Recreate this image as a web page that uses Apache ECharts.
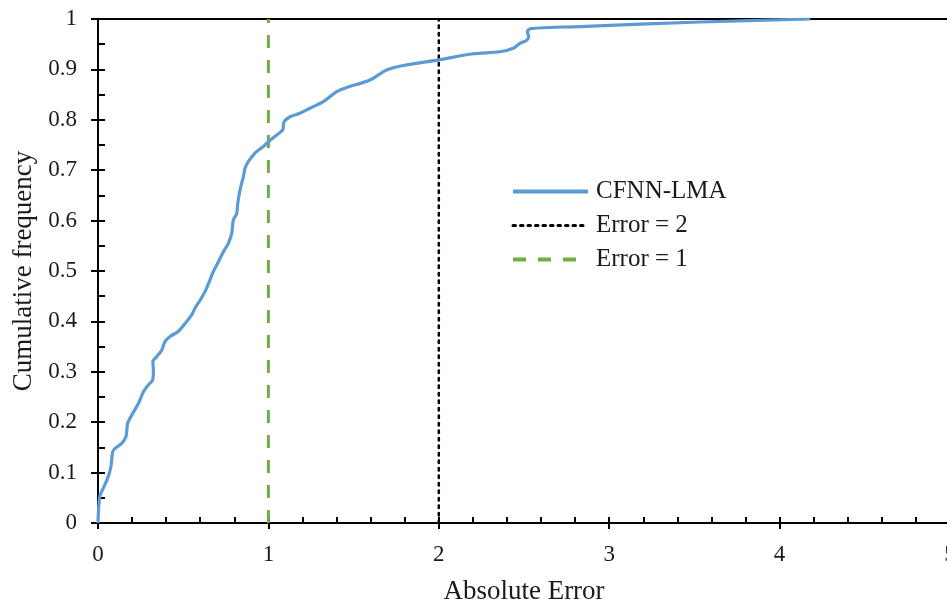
<!DOCTYPE html>
<html>
<head>
<meta charset="utf-8">
<script src="https://cdn.jsdelivr.net/npm/echarts@6/dist/echarts.min.js"></script>
<style>html,body{margin:0;padding:0;background:#fff}#c{width:947px;height:606px}</style>
</head>
<body>
<div id="c"></div>
<script>
// Cumulative frequency curve (Absolute Error, Cumulative frequency)
var errX = [0, 0.01, 0.031, 0.06, 0.076, 0.086, 0.1, 0.139, 0.164, 0.174, 0.198, 0.237, 0.266, 0.295, 0.321, 0.325, 0.322, 0.344, 0.374, 0.393, 0.423, 0.471, 0.511, 0.550, 0.569, 0.599, 0.628, 0.657, 0.677, 0.706, 0.736, 0.765, 0.785, 0.794, 0.814, 0.820, 0.833, 0.853, 0.863, 0.882, 0.921, 0.970, 1.002, 1.049, 1.084, 1.092, 1.127, 1.185, 1.244, 1.322, 1.401, 1.459, 1.596, 1.694, 1.812, 2.003, 2.202, 2.359, 2.437, 2.477, 2.516, 2.527, 2.520, 2.540, 2.829, 3.533, 4.18];
var cumFreq = [0, 0.052, 0.069, 0.092, 0.112, 0.141, 0.148, 0.158, 0.171, 0.198, 0.214, 0.237, 0.260, 0.274, 0.284, 0.304, 0.320, 0.330, 0.343, 0.360, 0.370, 0.380, 0.396, 0.413, 0.426, 0.442, 0.459, 0.482, 0.499, 0.518, 0.538, 0.555, 0.575, 0.601, 0.614, 0.634, 0.660, 0.687, 0.704, 0.717, 0.734, 0.747, 0.757, 0.770, 0.780, 0.796, 0.806, 0.813, 0.823, 0.836, 0.856, 0.864, 0.879, 0.899, 0.909, 0.919, 0.931, 0.935, 0.942, 0.952, 0.958, 0.965, 0.975, 0.981, 0.985, 0.994, 1.0];
var seriesNames = ['CFNN-LMA', 'Error = 2', 'Error = 1'];
var err2X = [2, 2];
var err1X = [1, 1];
var refY = [0, 1];
var xTicks = [0, 1, 2, 3, 4, 5];
var yTicks = [0, 0.1, 0.2, 0.3, 0.4, 0.5, 0.6, 0.7, 0.8, 0.9, 1];

function zip(a, b) { return a.map(function (v, i) { return [v, b[i]]; }); }
var fmtY = function (v) { return String(Math.round(v * 10) / 10); };
var font = 'Liberation Serif';
var ink = '#1a1a1a';
var blue = '#5B9BD5', green = '#70AD47';

var chart = echarts.init(document.getElementById('c'), null, { renderer: 'canvas' });
chart.setOption({
  animation: false,
  backgroundColor: '#fff',
  grid: { left: 98, right: -3, top: 19, bottom: 83, outerBoundsMode: 'none', containLabel: false, show: true, borderColor: '#000', borderWidth: 2, backgroundColor: 'transparent' },
  legend: {
    orient: 'vertical', left: 506, top: 174,
    itemWidth: 75, itemHeight: 14, itemGap: 9,
    itemStyle: { opacity: 0 },
    textStyle: { fontFamily: font, fontSize: 25, color: ink, lineHeight: 24, padding: [0, 0, 0, 3] },
    data: [
      { name: seriesNames[0], lineStyle: { color: blue, width: 4 } },
      { name: seriesNames[1], lineStyle: { color: '#000', width: 3, type: [2.5, 5] } },
      { name: seriesNames[2], lineStyle: { color: green, width: 4, type: [13, 12] } }
    ]
  },
  xAxis: [{
    type: 'value', min: xTicks[0], max: xTicks[xTicks.length - 1], interval: 1,
    name: 'Absolute Error', nameLocation: 'middle', nameGap: 55,
    nameTextStyle: { fontFamily: font, fontSize: 27, color: ink },
    axisLine: { lineStyle: { color: '#000', width: 2 } },
    axisTick: { show: true, inside: false, length: 6, lineStyle: { color: '#000', width: 2 } },
    axisLabel: { fontFamily: font, fontSize: 23, color: ink, margin: 20 },
    splitLine: { show: false }
  }, {
    type: 'value', position: 'bottom', min: 0, max: 5, interval: 1,
    axisLine: { show: false },
    axisTick: { show: true, inside: true, length: 6, lineStyle: { color: '#000', width: 2 } },
    minorTick: { show: true, splitNumber: 5, length: 6, lineStyle: { color: '#000', width: 2 } },
    axisLabel: { show: false }, splitLine: { show: false }
  }],
  yAxis: [{
    type: 'value', min: yTicks[0], max: yTicks[yTicks.length - 1], interval: 0.1,
    name: 'Cumulative frequency', nameLocation: 'middle', nameGap: 59,
    nameTextStyle: { fontFamily: font, fontSize: 27, color: ink },
    axisLine: { lineStyle: { color: '#000', width: 2 } },
    axisTick: { show: true, inside: false, length: 7, lineStyle: { color: '#000', width: 2 } },
    axisLabel: { fontFamily: font, fontSize: 23, color: ink, margin: 21, formatter: fmtY },
    splitLine: { show: false }
  }, {
    type: 'value', position: 'left', min: 0, max: 1, interval: 0.1,
    axisLine: { show: false },
    axisTick: { show: true, inside: true, length: 7, lineStyle: { color: '#000', width: 2 } },
    minorTick: { show: true, splitNumber: 2, length: 7, lineStyle: { color: '#000', width: 2 } },
    axisLabel: { show: false }, splitLine: { show: false }
  }],
  series: [{
    name: seriesNames[0], type: 'line', smooth: 0.3, symbol: 'none',
    data: zip(errX, cumFreq), z: 3,
    lineStyle: { color: blue, width: 3.2 }, itemStyle: { color: blue }
  }, {
    name: seriesNames[1], type: 'line', symbol: 'none',
    data: zip(err2X, refY), z: 2,
    lineStyle: { color: '#000', width: 2.5, type: [2.5, 5], cap: 'round' }, itemStyle: { color: '#000' }
  }, {
    name: seriesNames[2], type: 'line', symbol: 'none',
    data: zip(err1X, refY), z: 2,
    lineStyle: { color: green, width: 3, type: [13, 12] }, itemStyle: { color: green }
  }]
});
</script>
</body>
</html>
